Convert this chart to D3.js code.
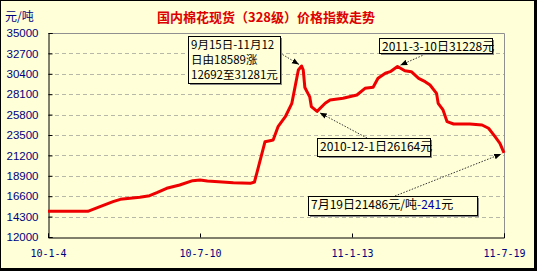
<!DOCTYPE html>
<html>
<head>
<meta charset="utf-8">
<script src="https://cdn.jsdelivr.net/npm/d3@7"></script>
<style>
body { margin: 0; background: #fff; }
svg { display: block; }
</style>
</head>
<body>
<svg id="chart" width="537" height="271"></svg>
<script>
var dates = ["2010-01-04","2010-02-22","2010-03-09","2010-03-25","2010-04-03","2010-04-27","2010-05-09","2010-05-18","2010-05-30","2010-06-15","2010-07-01","2010-07-10","2010-07-19","2010-08-20","2010-09-10","2010-09-15","2010-09-20","2010-09-28","2010-10-04","2010-10-08","2010-10-14","2010-10-23","2010-10-31","2010-11-04","2010-11-08","2010-11-12","2010-11-14","2010-11-16","2010-11-22","2010-11-24","2010-12-01","2010-12-11","2010-12-17","2011-01-02","2011-01-19","2011-01-29","2011-02-08","2011-02-14","2011-02-23","2011-03-01","2011-03-10","2011-03-19","2011-03-27","2011-04-05","2011-04-13","2011-04-19","2011-04-27","2011-04-29","2011-05-05","2011-05-10","2011-05-18","2011-06-07","2011-06-22","2011-06-30","2011-07-08","2011-07-14","2011-07-19"]
var prices = [14900,14900,15420,15980,16250,16480,16660,17000,17490,17860,18350,18430,18310,18120,18050,18200,19930,22745,22860,22940,24440,25560,27075,28950,30830,31281,30830,28850,27800,26690,26164,27080,27450,27640,28010,28760,28880,29890,30460,30640,31228,30750,30640,29890,29510,29140,28200,27075,26320,25000,24740,24740,24630,24260,23310,22560,21486]
var yTicks = [12000,14300,16600,18900,21200,23500,25800,28100,30400,32700,35000]
var xTickDates = ["2010-01-04","2010-07-10","2011-01-13","2011-07-19"]
var xTickLabels = ["10-1-4","10-7-10","11-1-13","11-7-19"]
var title = "国内棉花现货（328级）价格指数走势"
var unit = "元/吨"

var parse = d3.timeParse("%Y-%m-%d")
var data = dates.map(function(d, i) { return {date: parse(d), value: prices[i]} })

var W = 537, H = 271
var pL = 48, pR = 504, pT = 33, pB = 237
var svg = d3.select("#chart")
var font = "'Noto Sans CJK SC', 'Liberation Sans', sans-serif"
var navy = "#000080"

// background + frame
svg.append("rect").attr("x", 0).attr("y", 0).attr("width", W).attr("height", H).attr("fill", "#000")
svg.append("rect").attr("x", 1).attr("y", 1).attr("width", W - 4).attr("height", H - 4).attr("fill", "#FFFFD8")

var x = d3.scaleTime().domain([parse(xTickDates[0]), parse(xTickDates[3])]).range([pL, pR])
var y = d3.scaleLinear().domain([12000, 35000]).range([pB, pT])

// grid
svg.append("g").selectAll("line").data(yTicks.slice(1, -1)).enter().append("line")
	.attr("x1", pL).attr("x2", pR)
	.attr("y1", function(d) { return Math.round(y(d)) + .5 })
	.attr("y2", function(d) { return Math.round(y(d)) + .5 })
	.attr("stroke", "#b8b8a8").attr("stroke-dasharray", "4,3")

// top / right border
svg.append("path").attr("d", "M" + pL + "," + (pT + .5) + "H" + (pR + .5) + "V" + pB)
	.attr("fill", "none").attr("stroke", "#909090")

// axes
var yAxis = d3.axisLeft(y).tickValues(yTicks).tickSize(-4).tickPadding(10).tickFormat(d3.format("d"))
var gy = svg.append("g").attr("transform", "translate(" + (pL + .5) + ",0)").call(yAxis)
gy.select(".domain").attr("stroke", "#000")
gy.selectAll("text").attr("fill", navy).style("font-family", "'Liberation Sans', Arial, sans-serif").style("font-size", "11.5px")
gy.selectAll(".tick line").attr("stroke", "#000")

var xAxis = d3.axisBottom(x).tickValues(xTickDates.map(parse)).tickSize(-4).tickPadding(12)
	.tickFormat(function(d, i) { return xTickLabels[i] })
var gx = svg.append("g").attr("transform", "translate(0," + (pB + .5) + ")").call(xAxis)
gx.select(".domain").attr("stroke", "#000")
gx.selectAll(".tick line").attr("stroke", "#000")
gx.selectAll("text").attr("fill", navy).style("font-family", "'DejaVu Sans Mono', monospace").style("font-size", "10px")

// line
var line = d3.line().x(function(d) { return x(d.date) }).y(function(d) { return y(d.value) })
svg.append("path").datum(data).attr("d", line)
	.attr("fill", "none").attr("stroke", "#ee0000").attr("stroke-width", 3).attr("stroke-linejoin", "round")

// title / unit
svg.append("text").attr("x", 266).attr("y", 22).attr("text-anchor", "middle")
	.attr("fill", "#dd0000").style("font-family", font).style("font-size", "13px").style("font-weight", "bold").text(title)
svg.append("text").attr("x", 5).attr("y", 21).attr("fill", navy)
	.style("font-family", font).style("font-size", "12px").text(unit)

// annotations
var defs = svg.append("defs")
defs.append("marker").attr("id", "arr").attr("viewBox", "0 0 10 10").attr("refX", 10).attr("refY", 5)
	.attr("markerWidth", 7).attr("markerHeight", 7).attr("markerUnits", "userSpaceOnUse").attr("orient", "auto")
	.append("path").attr("d", "M0,1L10,5L0,9Z").attr("fill", "#000")

var notes = [
	{box: [188, 36, 92, 47], lines: ["9月15日-11月12", "日由18589涨", "12692至31281元"], from: [280, 53], to: "2010-11-12"},
	{box: [379, 38, 113, 15], lines: ["2011-3-10日31228元"], from: [428, 53], to: "2011-03-10"},
	{box: [317, 138, 113, 18], lines: ["2010-12-1日26164元"], from: [367, 138], to: "2010-12-01"},
	{box: [308, 196, 169, 19], lines: ["7月19日21486元/吨-241元"], from: [395, 196], to: "2011-07-19"}
]
var byDate = {}
data.forEach(function(d) { byDate[d3.timeFormat("%Y-%m-%d")(d.date)] = d })

notes.forEach(function(n, k) {
	var p = byDate[n.to]
	var tx = x(p.date), ty = y(p.value)
	var dx = n.from[0] - tx, dy = n.from[1] - ty, len = Math.sqrt(dx * dx + dy * dy)
	svg.append("line").attr("x1", n.from[0]).attr("y1", n.from[1])
		.attr("x2", tx + dx / len * 3).attr("y2", ty + dy / len * 3)
		.attr("stroke", "#333").attr("stroke-dasharray", "1.5,1.5").attr("marker-end", "url(#arr)")
	var b = n.box
	svg.append("rect").attr("x", b[0] + 2).attr("y", b[1] + 2).attr("width", b[2]).attr("height", b[3]).attr("fill", "#888")
	svg.append("rect").attr("x", b[0] + .5).attr("y", b[1] + .5).attr("width", b[2]).attr("height", b[3])
		.attr("fill", "#FFFFD8").attr("stroke", "#000")
	n.lines.forEach(function(t, i) {
		var tt = svg.append("text").attr("x", b[0] + 3).attr("y", b[1] + 13 + i * 15)
			.attr("fill", "#000").style("font-family", font).style("font-size", n.lines.length > 1 ? "11.5px" : "12px")
		if (k == 3) {
			tt.append("tspan").text("7月19日21486元/吨")
			tt.append("tspan").attr("fill", "#0000aa").text("-241")
			tt.append("tspan").text("元")
		} else {
			tt.text(t)
		}
	})
})
</script>
</body>
</html>
